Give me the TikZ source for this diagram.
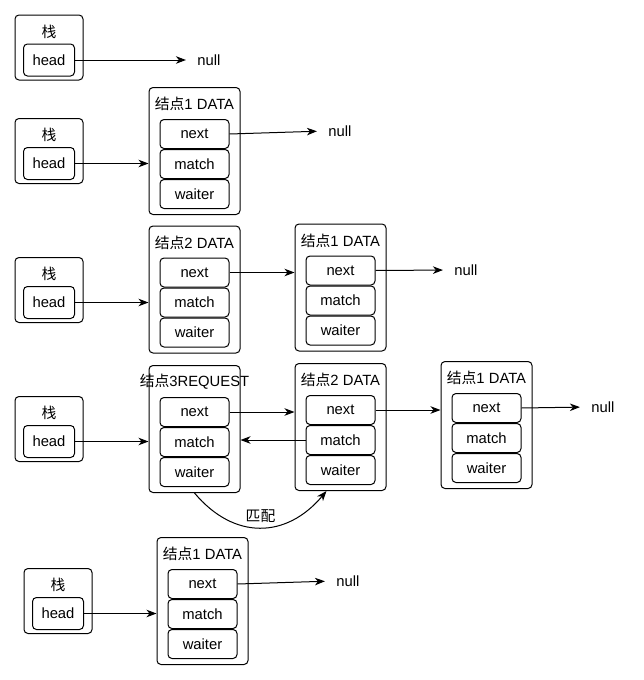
\documentclass[tikz,border=0pt]{standalone}
\usepackage{fontspec}
\setmainfont{Liberation Sans}
\newfontfamily\cjk{Noto Sans CJK SC}
\usetikzlibrary{arrows.meta,positioning}
\tikzset{
  every node/.style={
    font=\fontsize{14.8}{17}\selectfont
  },
  stackbox/.style={
    draw,
    line width=1pt,
    rounded corners=4pt,
    minimum width=68pt,
    minimum height=65pt
  },
  headbox/.style={
    draw,
    line width=1pt,
    rounded corners=4pt,
    inner sep=0pt,
    minimum width=51pt,
    minimum height=32pt
  },
  nodebox/.style={
    draw,
    line width=1pt,
    rounded corners=4pt,
    minimum width=91pt,
    minimum height=127pt
  },
  field/.style={
    draw,
    line width=1pt,
    rounded corners=4pt,
    inner sep=0pt,
    minimum width=69pt,
    minimum height=29pt
  },
  caption/.style={
    inner sep=0pt
  },
  ptr/.style={
    line width=1pt,
    -{Stealth[length=10pt,width=7.5pt,inset=3pt]}
  }
}

\begin{document}
\begin{tikzpicture}[x=1pt,y=-1pt]
    \useasboundingbox (0,0) rectangle (644,680);

    \node[stackbox] (st1) at (49,47.5) {};
    \node[caption] (st1t) at ([yshift=-17pt]st1.north) {\cjk 栈};
    \node[headbox, below=29pt of st1.north] (hd1) {head};
    \node (null1) at (209,60) {null};
    \draw[ptr, shorten >=8pt] (hd1.east) -- (null1.west);

    \node[stackbox] (st2) at (49,151) {};
    \node[caption] (st2t) at ([yshift=-17pt]st2.north) {\cjk 栈};
    \node[headbox, below=29pt of st2.north] (hd2) {head};
    \node[nodebox] (r2n1) at (194.5,151) {};
    \node[caption] (r2n1t) at ([yshift=-17pt]r2n1.north) {{\cjk 结点}1 DATA};
    \node[field, below=32pt of r2n1.north] (r2n1next) {next};
    \node[field, below=0pt of r2n1next] (r2n1match) {match};
    \node[field, below=0pt of r2n1match] (r2n1waiter) {waiter};
    \node (null2) at (340,131) {null};
    \draw[ptr] (hd2.east) -- (hd2.east -| r2n1.west);
    \draw[ptr, shorten >=8pt] (r2n1next.east) -- (null2.west);

    \node[stackbox] (st3) at (49,290) {};
    \node[caption] (st3t) at ([yshift=-17pt]st3.north) {\cjk 栈};
    \node[headbox, below=29pt of st3.north] (hd3) {head};
    \node[nodebox] (r3n2) at (194.5,289.5) {};
    \node[caption] (r3n2t) at ([yshift=-17pt]r3n2.north) {{\cjk 结点}2 DATA};
    \node[field, below=32pt of r3n2.north] (r3n2next) {next};
    \node[field, below=0pt of r3n2next] (r3n2match) {match};
    \node[field, below=0pt of r3n2match] (r3n2waiter) {waiter};
    \node[nodebox] (r3n1) at (340.5,287.5) {};
    \node[caption] (r3n1t) at ([yshift=-17pt]r3n1.north) {{\cjk 结点}1 DATA};
    \node[field, below=32pt of r3n1.north] (r3n1next) {next};
    \node[field, below=0pt of r3n1next] (r3n1match) {match};
    \node[field, below=0pt of r3n1match] (r3n1waiter) {waiter};
    \node (null3) at (466,270) {null};
    \draw[ptr] (hd3.east) -- (hd3.east -| r3n2.west);
    \draw[ptr] (r3n2next.east) -- (r3n2next.east -| r3n1.west);
    \draw[ptr, shorten >=8pt] (r3n1next.east) -- (null3.west);

    \node[stackbox] (st4) at (49,429) {};
    \node[caption] (st4t) at ([yshift=-17pt]st4.north) {\cjk 栈};
    \node[headbox, below=29pt of st4.north] (hd4) {head};
    \node[nodebox] (r4n3) at (194.5,429) {};
    \node[caption] (r4n3t) at ([yshift=-17pt]r4n3.north) {{\cjk 结点}3REQUEST};
    \node[field, below=32pt of r4n3.north] (r4n3next) {next};
    \node[field, below=0pt of r4n3next] (r4n3match) {match};
    \node[field, below=0pt of r4n3match] (r4n3waiter) {waiter};
    \node[nodebox] (r4n2) at (340.5,427) {};
    \node[caption] (r4n2t) at ([yshift=-17pt]r4n2.north) {{\cjk 结点}2 DATA};
    \node[field, below=32pt of r4n2.north] (r4n2next) {next};
    \node[field, below=0pt of r4n2next] (r4n2match) {match};
    \node[field, below=0pt of r4n2match] (r4n2waiter) {waiter};
    \node[nodebox] (r4n1) at (486.5,425) {};
    \node[caption] (r4n1t) at ([yshift=-17pt]r4n1.north) {{\cjk 结点}1 DATA};
    \node[field, below=32pt of r4n1.north] (r4n1next) {next};
    \node[field, below=0pt of r4n1next] (r4n1match) {match};
    \node[field, below=0pt of r4n1match] (r4n1waiter) {waiter};
    \node (null4) at (603,407) {null};
    \draw[ptr] (hd4.east) -- (hd4.east -| r4n3.west);
    \draw[ptr] (r4n3next.east) -- (r4n3next.east -| r4n2.west);
    \draw[ptr] (r4n2match.west) -- (r4n2match.west -| r4n3.east);
    \draw[ptr] (r4n2next.east) -- (r4n2next.east -| r4n1.west);
    \draw[ptr, shorten >=8pt] (r4n1next.east) -- (null4.west);
    \draw[ptr] (r4n3.south) to[out=-50, in=-130, looseness=1.2]
      node[midway, above=1pt] (match4) {\cjk 匹配} ([xshift=-14pt]r4n2.south);

    \node[stackbox] (st5) at (58,601) {};
    \node[caption] (st5t) at ([yshift=-17pt]st5.north) {\cjk 栈};
    \node[headbox, below=29pt of st5.north] (hd5) {head};
    \node[nodebox] (r5n1) at (202.5,601) {};
    \node[caption] (r5n1t) at ([yshift=-17pt]r5n1.north) {{\cjk 结点}1 DATA};
    \node[field, below=32pt of r5n1.north] (r5n1next) {next};
    \node[field, below=0pt of r5n1next] (r5n1match) {match};
    \node[field, below=0pt of r5n1match] (r5n1waiter) {waiter};
    \node (null5) at (348,581) {null};
    \draw[ptr] (hd5.east) -- (hd5.east -| r5n1.west);
    \draw[ptr, shorten >=8pt] (r5n1next.east) -- (null5.west);
\end{tikzpicture}
\end{document}
